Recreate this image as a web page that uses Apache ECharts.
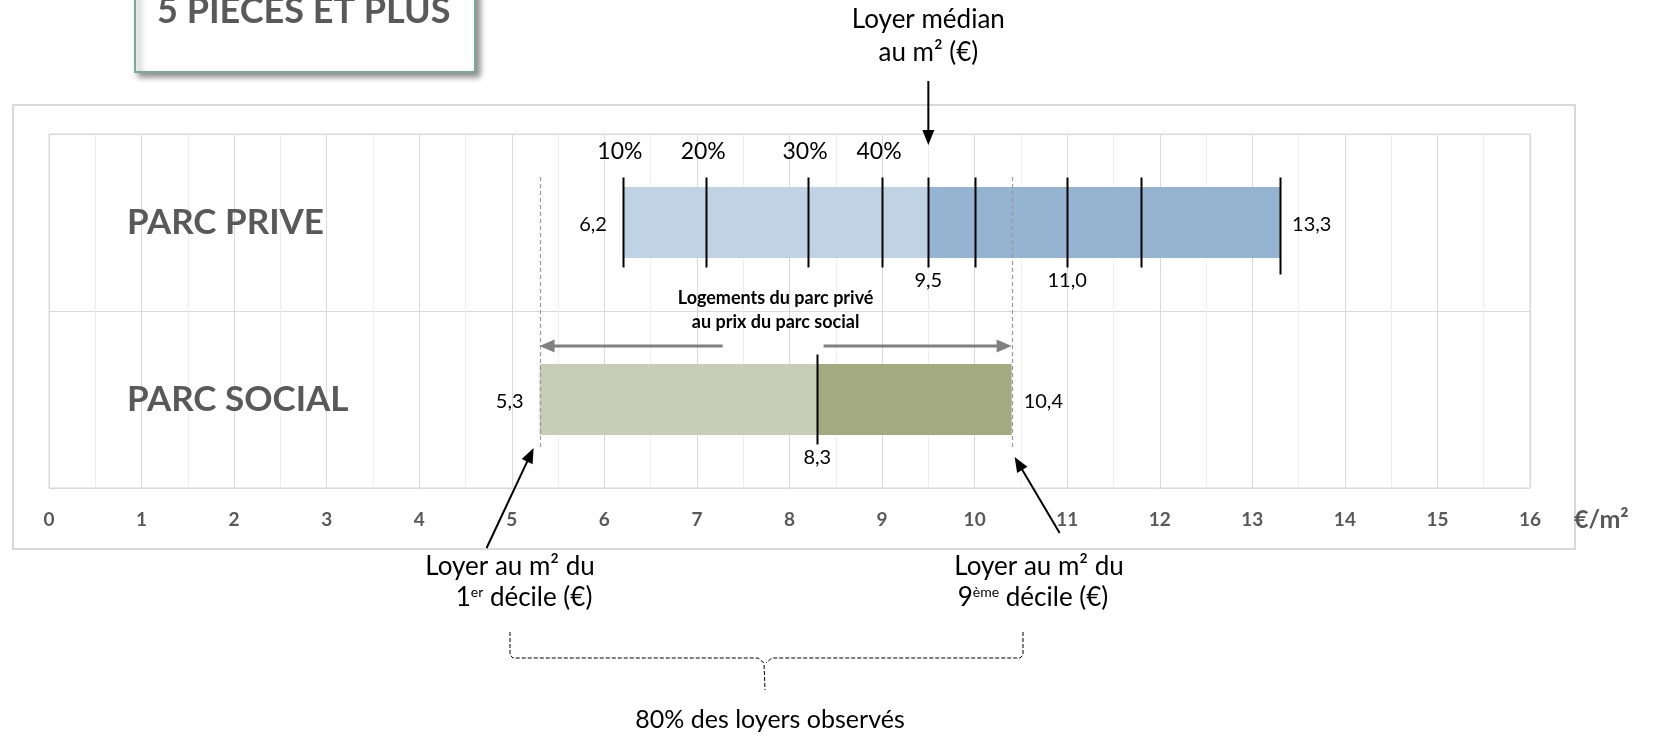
<!DOCTYPE html>
<html><head><meta charset="utf-8">
<script src="https://cdn.jsdelivr.net/npm/echarts@6/dist/echarts.min.js"></script>
<style>html,body{margin:0;padding:0;background:#fff}#c{width:1665px;height:735px}</style>
</head><body><div id="c"></div>
<script>
// ---- data ----
const categories = ['PARC SOCIAL', 'PARC PRIVE'];
const priveDeciles = [6.2, 7.1, 8.2, 9.0, 9.5, 10.0, 11.0, 11.8, 13.3];
const socialDeciles = [5.3, 8.3, 10.4]; // 1er décile, médiane, 9e décile
const percentLabels = ['10%', '20%', '30%', '40%'];
const priveLabelled = [6.2, 9.5, 11.0, 13.3];
const socialLabelled = [5.3, 8.3, 10.4];
const xMin = 0, xMax = 16, xStep = 1;
const unitLabel = '€/m²';
const titleText = '5 PIECES ET PLUS';

// ---- styles ----
const FONT = 'Lato';
const lightCol = ['#c8cdb5', '#bfd3e5'];
const darkCol = ['#a3aa80', '#94b4d2'];

const ranges = [
  [0, socialDeciles[0], socialDeciles[1], socialDeciles[2]],
  [1, priveDeciles[0], priveDeciles[4], priveDeciles[8]]
];
const tickData = priveDeciles.map((v, i) => [v, 1, i]).concat([[socialDeciles[1], 0, 4]]);
const labelData = priveLabelled.map(v => [v, 1]).concat(socialLabelled.map(v => [v, 0]));
const fmt = v => v.toFixed(1).replace('.', ',');

const chart = echarts.init(document.getElementById('c'), null, {renderer: 'canvas'});
const option = {
  animation: false,
  textStyle: {fontFamily: FONT},
  grid: {left: 49, right: 135, top: 134, bottom: 247, show: true, borderColor: '#d9d9d9', borderWidth: 1, backgroundColor: 'transparent'},
  xAxis: {
    type: 'value', min: xMin, max: xMax, interval: xStep,
    axisLine: {show: false}, axisTick: {show: false},
    minorTick: {show: false, splitNumber: 2},
    splitLine: {show: true, lineStyle: {color: '#d9d9d9', width: 1}},
    minorSplitLine: {show: true, lineStyle: {color: '#efefef', width: 1}},
    axisLabel: {margin: 22, fontSize: 19, fontWeight: 'bold', color: '#595959', fontFamily: FONT}
  },
  yAxis: {
    type: 'category', data: categories,
    axisLine: {show: false}, axisTick: {show: false},
    splitLine: {show: true, lineStyle: {color: '#d9d9d9', width: 1}},
    axisLabel: {inside: true, margin: 78, fontSize: 35, fontWeight: 'bold', color: '#595959', fontFamily: FONT, padding: [8, 0, 0, 0]}
  },
  series: [
    {
      type: 'custom', name: 'bars',
      encode: {x: [1, 2, 3], y: 0},
      data: ranges,
      renderItem: function (params, api) {
        const cat = api.value(0);
        const a = api.coord([api.value(1), cat]);
        const m = api.coord([api.value(2), cat]);
        const b = api.coord([api.value(3), cat]);
        const h = api.size([0, 1])[1] * 0.4;
        return {type: 'group', children: [
          {type: 'rect', shape: {x: a[0], y: a[1] - h / 2, width: m[0] - a[0], height: h}, style: {fill: lightCol[cat]}},
          {type: 'rect', shape: {x: m[0], y: m[1] - h / 2, width: b[0] - m[0], height: h}, style: {fill: darkCol[cat]}}
        ]};
      }
    },
    {
      type: 'custom', name: 'ticks',
      encode: {x: 0, y: 1},
      data: tickData,
      z: 5,
      renderItem: function (params, api) {
        const v = api.value(0), cat = api.value(1), idx = api.value(2);
        const p = api.coord([v, cat]);
        const x = Math.round(p[0]) + 0.5;
        const top = p[1] - 45, bot = p[1] + 45 + (cat === 1 && idx === 8 ? 7 : 0);
        const ch = [{type: 'line', shape: {x1: x, y1: top, x2: x, y2: bot}, style: {stroke: '#000', lineWidth: 2}}];
        if (cat === 1 && idx < percentLabels.length) {
          ch.push({type: 'text', x: p[0] - 3, y: p[1] - 71, style: {text: percentLabels[idx], fontSize: 23, fontFamily: FONT, fill: '#000', align: 'center', verticalAlign: 'middle'}});
        }
        return {type: 'group', children: ch};
      }
    },
    {
      type: 'custom', name: 'valueLabels',
      encode: {x: 0, y: 1},
      data: labelData,
      z: 6,
      renderItem: function (params, api) {
        const v = api.value(0), cat = api.value(1);
        const p = api.coord([v, cat]);
        const r = ranges[cat];
        let x = p[0], y = p[1] + 58, align = 'center';
        if (v === r[1]) { x = p[0] - 16; y = p[1] + 2; align = 'right'; }
        else if (v === r[3]) { x = p[0] + 12; y = p[1] + 2; align = 'left'; }
        return {type: 'text', x: x, y: y, style: {text: fmt(v), fontSize: 20, fontFamily: FONT, fill: '#000', align: align, verticalAlign: 'middle'}};
      }
    }
  ]
};
chart.setOption(option);

function arrow(x1, y1, x2, y2, color, lw, hl, hw) {
  const dx = x2 - x1, dy = y2 - y1, L = Math.hypot(dx, dy), ux = dx / L, uy = dy / L;
  const bx = x2 - ux * hl, by = y2 - uy * hl, px = -uy, py = ux;
  return [
    {type: 'line', shape: {x1: x1, y1: y1, x2: bx + ux * 1, y2: by + uy * 1}, style: {stroke: color, lineWidth: lw}, z: 20},
    {type: 'polygon', shape: {points: [[x2, y2], [bx + px * hw / 2, by + py * hw / 2], [bx - px * hw / 2, by - py * hw / 2]]}, style: {fill: color}, z: 20}
  ];
}
const X = v => chart.convertToPixel({xAxisIndex: 0}, v);
const xMed = X(priveDeciles[4]);
const xS1 = X(socialDeciles[0]);
const xS9 = X(socialDeciles[2]);
const xMid = (xS1 + xS9) / 2;
const txt = (x, y, text, size, opts) => Object.assign({type: 'text', x: x, y: y, z: 20,
  style: Object.assign({text: text, fontSize: size, fontFamily: FONT, fill: '#000', align: 'center', verticalAlign: 'middle'}, opts || {})});

const g = [];
// outer frame
g.push({type: 'rect', z: 0, shape: {x: 13, y: 105, width: 1562, height: 444}, style: {fill: 'none', stroke: '#d9d9d9', lineWidth: 2}});
// title box
g.push({type: 'rect', z: 10, shape: {x: 135, y: -20, width: 340, height: 92}, style: {fill: '#fff', stroke: '#7aa99a', lineWidth: 2, shadowBlur: 6, shadowOffsetX: 4, shadowOffsetY: 4, shadowColor: 'rgba(0,0,0,0.45)'}});
g.push(txt(157, 11, titleText, 36, {fontWeight: 'bold', fill: '#595959', align: 'left'}));
// median annotation
g.push(txt(xMed, 20, 'Loyer médian', 26));
g.push(txt(xMed, 53, 'au m² (€)', 26));
g.push(...arrow(xMed, 81, xMed, 145, '#000', 2, 15, 12));
// dashed decile lines (social d1 / d9)
[xS1, xS9].forEach(x => g.push({type: 'line', z: 15, shape: {x1: Math.round(x) + 0.5, y1: 177, x2: Math.round(x) + 0.5, y2: 447}, style: {stroke: '#9a9a9a', lineWidth: 1.2, lineDash: [4, 3]}}));
// gray double arrow + text
g.push(...arrow(xMid - 53, 346, xS1, 346, '#808080', 3, 15, 13));
g.push(...arrow(xMid + 48, 346, xS9, 346, '#808080', 3, 15, 13));
g.push(txt(xMid, 298, 'Logements du parc privé', 18, {fontWeight: 'bold'}));
g.push(txt(xMid, 322, 'au prix du parc social', 18, {fontWeight: 'bold'}));
// bottom arrows
g.push(...arrow(xS1 - 53, 548, xS1 - 6, 448, '#000', 2, 15, 12));
g.push(...arrow(xS9 + 48, 533, xS9 + 3, 457, '#000', 2, 15, 12));
// unit label
g.push(txt(1574, 520, unitLabel, 25, {fontWeight: 'bold', fill: '#595959', align: 'left'}));
// bottom explanatory texts
const rich = {n: {fontSize: 26, fontFamily: FONT, fill: '#000'}, s: {fontSize: 14, fontFamily: FONT, fill: '#000', verticalAlign: 'top'}};
g.push(txt(510, 567, 'Loyer au m² du', 26));
g.push({type: 'text', x: 524, y: 598, z: 20, style: {text: '{n|1}{s|er}{n| décile (€)}', rich: rich, align: 'center', verticalAlign: 'middle', fontFamily: FONT}});
g.push(txt(1039, 567, 'Loyer au m² du', 26));
g.push({type: 'text', x: 1033, y: 598, z: 20, style: {text: '{n|9}{s|ème}{n| décile (€)}', rich: rich, align: 'center', verticalAlign: 'middle', fontFamily: FONT}});
// bracket (dashed)
const dash = {fill: 'none', stroke: '#000', lineWidth: 1, lineDash: [4, 2]};
g.push({type: 'polyline', z: 20, shape: {points: [[510, 632], [510, 655], [513, 658], [758, 658], [764, 663], [765, 690]]}, style: dash});
g.push({type: 'polyline', z: 20, shape: {points: [[1023, 632], [1023, 655], [1020, 658], [772, 658], [766, 663]]}, style: dash});
g.push(txt(770, 720, '80% des loyers observés', 25));
chart.setOption({graphic: g});
</script>
</body></html>
